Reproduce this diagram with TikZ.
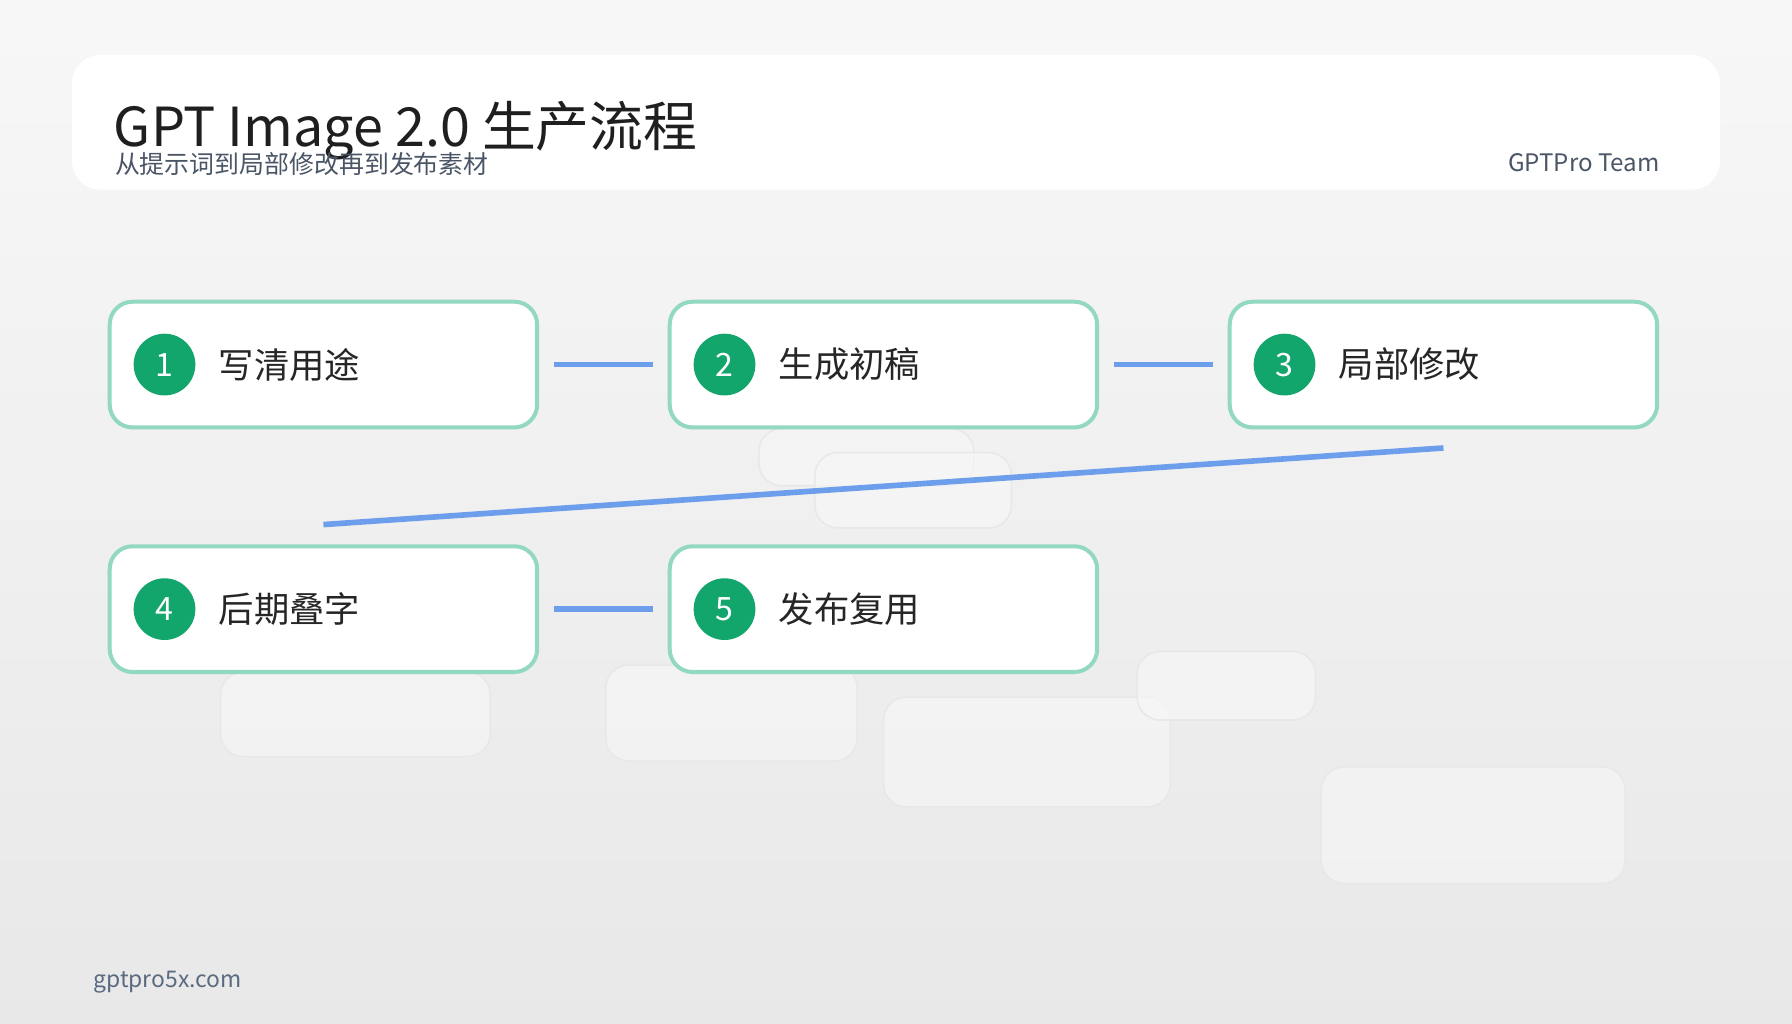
\documentclass[tikz,border=0pt]{standalone}
\usepackage{fontspec}
\setmainfont{Noto Sans CJK SC}
\usetikzlibrary{positioning}
\definecolor{stepgreen}{HTML}{12A56C}
\definecolor{edgegreen}{HTML}{93D9C0}
\definecolor{linkblue}{HTML}{6D9EEB}
\definecolor{greytext}{HTML}{4A5566}
\definecolor{footblue}{HTML}{5A6A80}
\tikzset{
  stepbox/.style={draw=edgegreen, line width=1pt, fill=white, rounded corners=0.2cm,
    minimum width=3.74cm, minimum height=1.1cm},
  num/.style={circle, fill=stepgreen, text=white, minimum size=0.54cm, inner sep=0pt,
    font=\fontsize{8}{8}\selectfont},
  steplabel/.style={anchor=west, inner sep=0pt, font=\fontsize{8.8}{9}\selectfont, text=black!85},
  ghost/.style={draw=black!9, fill=black!3, fill opacity=0.6, rounded corners=0.2cm},
  link/.style={draw=linkblue, line width=1.4pt}
}
\begin{document}
\begin{tikzpicture}[yscale=-1]
  % background
  \shade[top color=black!3, bottom color=black!9] (0,0) rectangle (15.68,8.96);
  \useasboundingbox (0,0) rectangle (15.68,8.96);

  % faded cards behind
  \begin{scope}
  \path[ghost] (6.64,3.75) rectangle (8.52,4.25);
  \path[ghost] (7.13,3.96) rectangle (8.85,4.62);
  \path[ghost] (1.93,5.88) rectangle (4.29,6.62);
  \path[ghost] (5.30,5.82) rectangle (7.50,6.66);
  \path[ghost] (7.73,6.10) rectangle (10.24,7.06);
  \path[ghost] (9.95,5.70) rectangle (11.51,6.30);
  \path[ghost] (11.56,6.71) rectangle (14.22,7.73);
  \end{scope}

  % header card
  \node[fill=white, rounded corners=0.25cm, minimum width=14.42cm, minimum height=1.18cm] (head) at (7.84,1.07) {};
  \node[anchor=base west, inner sep=0pt, font=\fontsize{13.4}{14}\selectfont, text=black!88] (title) at (0.99,1.28) {GPT Image 2.0 生产流程};
  \node[anchor=base west, inner sep=0pt, font=\fontsize{6.2}{6.2}\selectfont, text=greytext] (subtitle) at (1.00,1.52) {从提示词到局部修改再到发布素材};
  \node[anchor=base east, inner sep=0pt, font=\fontsize{6}{6}\selectfont, text=greytext] (team) at (14.53,1.50) {GPTPro Team};

  % steps
  \node[stepbox] (s1) at (2.83,3.19) {};
  \node[stepbox] (s2) at (7.73,3.19) {};
  \node[stepbox] (s3) at (12.63,3.19) {};
  \node[stepbox] (s4) at (2.83,5.33) {};
  \node[stepbox] (s5) at (7.73,5.33) {};
  \foreach \i/\t in {1/写清用途, 2/生成初稿, 3/局部修改, 4/后期叠字, 5/发布复用} {
    \node[num, right=0.22cm of s\i.west] (n\i) {\i};
    \node[steplabel, right=0.19cm of n\i] (t\i) {\t};
  }

  % links
  \coordinate (a3) at (12.63,3.92);
  \coordinate (a4) at (2.83,4.59);
  \path[link] ([xshift=0.13cm]s1.east) -- ([xshift=-0.13cm]s2.west);
  \path[link] ([xshift=0.13cm]s2.east) -- ([xshift=-0.13cm]s3.west);
  \path[link] (a3) -- (a4);
  \path[link] ([xshift=0.13cm]s4.east) -- ([xshift=-0.13cm]s5.west);

  % footer
  \node[anchor=base west, inner sep=0pt, font=\fontsize{5.7}{6}\selectfont, text=footblue] (foot) at (0.81,8.64) {gptpro5x.com};
\end{tikzpicture}
\end{document}
